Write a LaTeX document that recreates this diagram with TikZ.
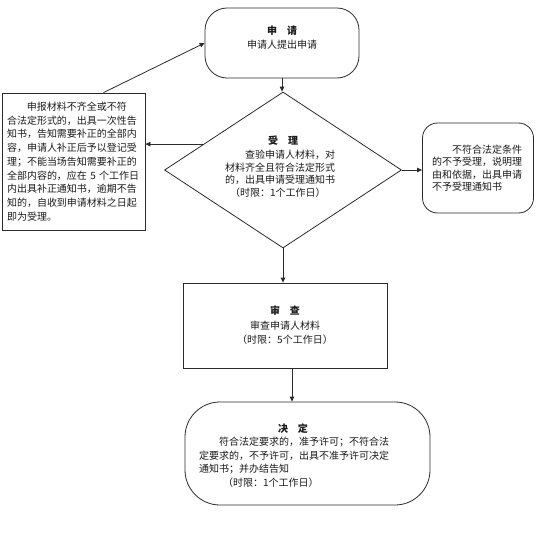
\documentclass[tikz,border=0pt]{standalone}
\usepackage{fontspec}
\setmainfont{Noto Sans CJK SC}
\usetikzlibrary{arrows.meta,shapes.geometric}
\definecolor{flwInk}{HTML}{2B2B2B}
\definecolor{flwText}{HTML}{1A1A1A}
\tikzset{
  flw box/.style={draw=flwInk, line width=0.8pt, inner sep=0pt, text=flwText, font=\fontsize{10}{13.5}\selectfont},
  flw round/.style={flw box, rounded corners=#1},
  flw arrow/.style={draw=flwInk, line width=0.8pt, -{Triangle[length=5pt,width=4.5pt]}},
}

\begin{document}
\begin{tikzpicture}[x=1pt,y=-1pt]
\useasboundingbox(0,0)rectangle(554,535);
\node[flw round=22pt,minimum width=154pt,minimum height=70pt,align=center](sq)at(282,43){\textbf{申\quad 请}\\申请人提出申请\\[-2pt]\mbox{}};
\node[flw box,minimum width=143pt,minimum height=137pt,text width=133pt,align=left,font=\fontsize{10}{13.75}\selectfont](bc)at(73.5,161.5){\hspace*{2em}申报材料不齐全或不符\\合法定形式的，出具一次性告\\知书，告知需要补正的全部内\\容，申请人补正后予以登记受\\理；不能当场告知需要补正的\\全部内容的，应在~5~个工作日\\内出具补正通知书，逾期不告\\知的，自收到申请材料之日起\\即为受理。};
\node[flw box,diamond,aspect=1.52,minimum width=237pt,minimum height=156pt,text width=116pt,align=left,font=\fontsize{10}{12.5}\selectfont](sl)at(283,170){\hspace*{43pt}\textbf{受\quad 理}\\[2pt]\hspace*{2em}查验申请人材料，对\\材料齐全且符合法定形式\\的，出具申请受理通知书\\\hspace*{5pt}（时限：1个工作日）\\[-4pt]\mbox{}};
\node[flw round=15pt,minimum width=111pt,minimum height=90pt,text width=92pt,align=left,font=\fontsize{10}{12.5}\selectfont](rb)at(478,168){\hspace*{2em}不符合法定条件\\的不予受理，说明理\\由和依据，出具申请\\不予受理通知书};
\node[flw box,minimum width=204pt,minimum height=85pt,align=center,font=\fontsize{10}{14.5}\selectfont](sc)at(285,325.5){\textbf{审\quad 查}\\审查申请人材料\\（时限：5个工作日）};
\node[flw round=35pt,minimum width=245pt,minimum height=103pt,text width=217pt,align=left](jd)at(307.5,453.5){\mbox{}\\[-1pt]\hspace*{79pt}\textbf{决\quad 定}\\\hspace*{2em}符合法定要求的，准予许可；不符合法\\定要求的，不予许可，出具不准予许可决定\\通知书；并办结告知\\\hspace*{24pt}（时限：1个工作日）};
\draw[flw arrow]([xshift=30pt]bc.north)--(sq.west);
\draw[flw arrow](sq.south)--(sq.south|-sl.north);
\draw[flw arrow](sl.162)--(sl.162-|bc.east);
\draw[flw arrow](sl.east)--(sl.east-|rb.west);
\draw[flw arrow](sl.south)--(sl.south|-sc.north);
\draw[flw arrow]([xshift=7pt]sc.south)--([xshift=7pt]sc.south|-jd.north);
\end{tikzpicture}
\end{document}
